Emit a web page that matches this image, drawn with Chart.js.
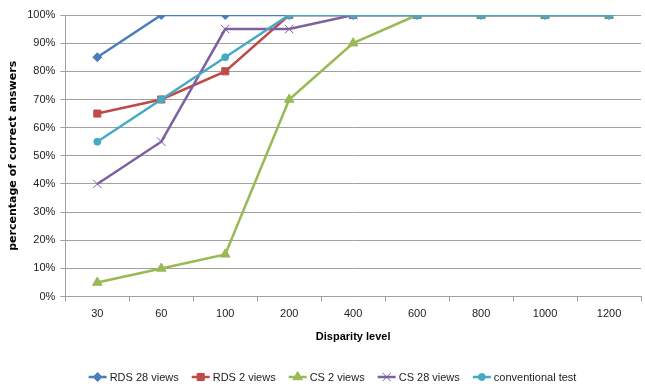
<!DOCTYPE html>
<html>
<head>
<meta charset="utf-8">
<script src="https://cdn.jsdelivr.net/npm/chart.js@4"></script>
<style>
  html, body { margin: 0; padding: 0; background: #fff; }
  #wrap { width: 645px; height: 388px; }
</style>
</head>
<body>
<div id="wrap"><canvas id="chart" width="645" height="388"></canvas></div>
<script>
// Disparity levels on the x axis
const levels = ["30", "60", "100", "200", "400", "600", "800", "1000", "1200"];

// Percentage of correct answers per test
const rds28 = [85, 100, 100, 100, 100, 100, 100, 100, 100];
const rds2 = [65, 70, 80, 100, 100, 100, 100, 100, 100];
const cs2 = [5, 10, 15, 70, 90, 100, 100, 100, 100];
const cs28 = [40, 55, 95, 95, 100, 100, 100, 100, 100];
const conventional = [55, 70, 85, 100, 100, 100, 100, 100, 100];

const seriesNames = ["RDS 28 views", "RDS 2 views", "CS 2 views", "CS 28 views", "conventional test"];

const font = "'Liberation Sans', Arial, sans-serif";

// Line + marker legend at the bottom, like the spreadsheet one
const bottomLegend = {
    id: 'bottomLegend',
    afterDraw(chart) {
        const ctx = chart.ctx;
        const sets = chart.data.datasets;
        ctx.save();
        ctx.font = "11px " + font;
        ctx.textBaseline = 'middle';
        const lineLen = 18, gap = 3, spacing = 13;
        const widths = sets.map(ds => lineLen + gap + ctx.measureText(ds.label).width);
        const total = widths.reduce((a, b) => a + b, 0) + spacing * (sets.length - 1);
        let x = (chart.width - total) / 2 + 10;
        const y = 377;
        sets.forEach((ds, i) => {
            ctx.strokeStyle = ds.borderColor;
            ctx.fillStyle = ds.borderColor;
            ctx.lineWidth = 2.5;
            ctx.beginPath();
            ctx.moveTo(x, y);
            ctx.lineTo(x + lineLen, y);
            ctx.stroke();
            ctx.lineWidth = 1;
            Chart.helpers.drawPoint(ctx, {
                pointStyle: ds.pointStyle,
                radius: ds.pointRadius,
                borderWidth: 1
            }, x + lineLen / 2, y);
            ctx.fillStyle = '#222';
            ctx.fillText(ds.label, x + lineLen + gap, y + 0.5);
            x += widths[i] + spacing;
        });
        ctx.restore();
    }
};

function makeSet(i, data, color, style, radius) {
    return {
        label: seriesNames[i],
        data: data,
        borderColor: color,
        backgroundColor: color,
        borderWidth: 2.5,
        pointStyle: style,
        pointRadius: radius,
        pointHoverRadius: radius,
        pointBorderWidth: 1,
        pointBorderColor: color,
        pointBackgroundColor: color,
        tension: 0,
        fill: false,
        order: 5 - i
    };
}

const ctx = document.getElementById('chart').getContext('2d');
new Chart(ctx, {
    type: 'line',
    data: {
        labels: levels,
        datasets: [
            makeSet(0, rds28, '#4A7EBB', 'rectRot', 4.5),
            makeSet(1, rds2, '#BE4B48', 'rect', 5),
            makeSet(2, cs2, '#98B954', 'triangle', 5.5),
            makeSet(3, cs28, '#7D60A0', 'crossRot', 6),
            makeSet(4, conventional, '#46AAC5', 'circle', 3.5)
        ]
    },
    options: {
        responsive: false,
        animation: false,
        layout: { autoPadding: false, padding: { left: 7, right: 4, top: 15, bottom: 44 } },
        plugins: {
            legend: { display: false },
            tooltip: { enabled: false }
        },
        scales: {
            x: {
                offset: true,
                grid: {
                    offset: true,
                    drawOnChartArea: false,
                    drawTicks: true,
                    tickLength: 5,
                    color: '#A0A0A0'
                },
                border: { color: '#A0A0A0', width: 1 },
                ticks: { color: '#222', font: { family: font, size: 11 }, padding: 6 },
                title: {
                    display: true,
                    text: 'Disparity level',
                    color: '#000',
                    font: { family: font, size: 11, weight: 'bold' },
                    padding: { top: 4, bottom: 0 }
                }
            },
            y: {
                min: 0,
                max: 100,
                ticks: {
                    stepSize: 10,
                    color: '#222',
                    font: { family: font, size: 11 },
                    padding: 5,
                    callback: v => v + '%'
                },
                grid: { color: '#A0A0A0', lineWidth: 1, tickLength: 5 },
                border: { color: '#A0A0A0', width: 1 },
                title: {
                    display: true,
                    text: 'percentage of correct answers',
                    color: '#000',
                    font: { family: "'DejaVu Sans', sans-serif", size: 11, weight: 'bold' },
                    padding: { top: 0, bottom: 2 }
                }
            }
        }
    },
    plugins: [bottomLegend]
});
</script>
</body>
</html>
